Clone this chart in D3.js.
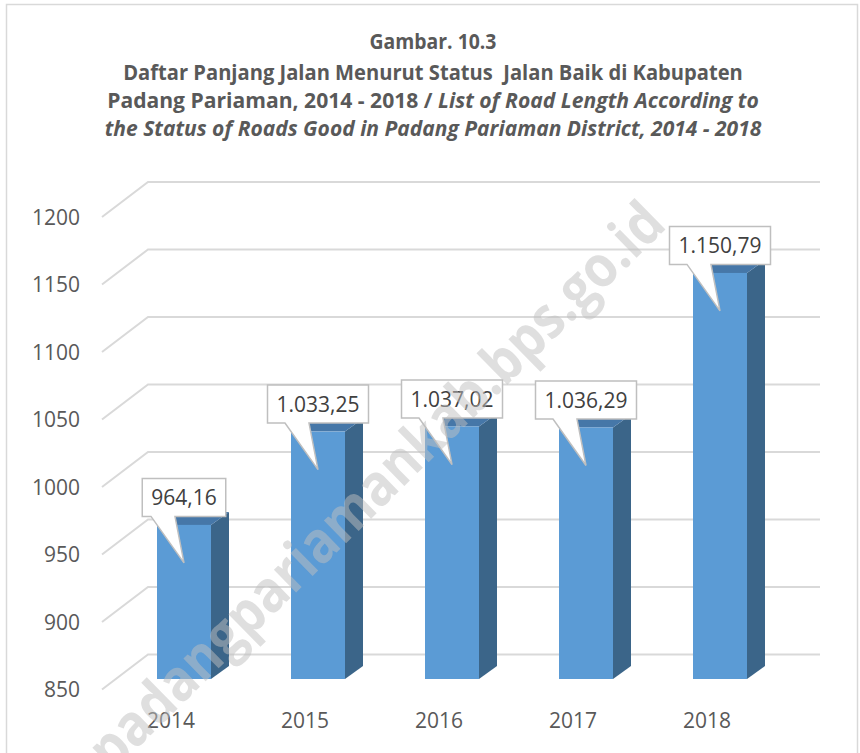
<!DOCTYPE html>
<html>
<head>
<meta charset="utf-8">
<script src="https://cdn.jsdelivr.net/npm/d3@7"></script>
<style>
  body { margin: 0; background: #fff; }
  svg { display: block; font-family: "Open Sans", sans-serif; }
  .title { white-space: pre; }
</style>
</head>
<body>
<svg></svg>
<script>
const width = 860, height = 753;
const svg = d3.select("svg").attr("width", width).attr("height", height);

// data
const years = ["2014", "2015", "2016", "2017", "2018"];
const roadGood = [964.16, 1033.25, 1037.02, 1036.29, 1150.79];
const yTicks = [850, 900, 950, 1000, 1050, 1100, 1150, 1200];
const titleLines = [
    [{ t: "Gambar. 10.3" }],
    [{ t: "Daftar Panjang Jalan Menurut Status  Jalan Baik di Kabupaten" }],
    [{ t: "Padang Pariaman, 2014 - 2018 / " }, { t: "List of Road Length According to", it: true }],
    [{ t: "the Status of Roads Good in Padang Pariaman District, 2014 - 2018", it: true }]
];
const watermark = "padangpariamankab.bps.go.id";

// indonesian number format 1.033,25
const idFmt = d3.formatLocale({ decimal: ",", thousands: ".", grouping: [3], currency: ["Rp", ""] }).format(",.2f");

// frame
svg.append("rect")
    .attr("x", 6.5).attr("y", 4.5)
    .attr("width", 851).attr("height", 770)
    .attr("fill", "none").attr("stroke", "#d9d9d9").attr("stroke-width", 1.5);

// title, squeezed a bit to match the narrow original font
const titleY = [49, 80, 108, 136];
const titleW = [127, 620, 652, 657];
titleLines.forEach((parts, i) => {
    const t = svg.append("text")
        .attr("class", "title")
        .attr("text-anchor", "middle")
        .attr("font-size", 20.5).attr("font-weight", "bold")
        .attr("fill", "#595959");
    parts.forEach(p => {
        t.append("tspan").text(p.t).attr("font-style", p.it ? "italic" : "normal");
    });
    const w = t.node().getComputedTextLength();
    t.attr("transform", `translate(433,${titleY[i]}) scale(${titleW[i] / w},1)`);
});

// scales (front face of bars)
const y = d3.scaleLinear().domain([850, 1200]).range([679, 679 - 350 * 1.35]);
const x = d3.scaleBand().domain(years).range([117, 787]).paddingInner(0.597).paddingOuter(0.2985);

const depthX = 46, depthY = 35;   // wall depth
const backX = 148, rightX = 820;
const wallOff = -24.5;            // back wall relative to bar front base

// gridlines
const grid = svg.append("g").attr("fill", "none").attr("stroke", "#d9d9d9").attr("stroke-width", 2);
yTicks.forEach(v => {
    const yb = y(v) + wallOff;
    grid.append("path")
        .attr("d", `M${backX - depthX},${yb + depthY}L${backX},${yb}H${rightX}`);
});

// y tick labels
svg.append("g").selectAll("text")
    .data(yTicks)
    .join("text")
    .attr("x", 80)
    .attr("y", d => y(d) + wallOff + depthY)
    .attr("dy", "0.36em")
    .attr("text-anchor", "end")
    .attr("font-size", 21)
    .attr("fill", "#595959")
    .text(d => d);

// bars
const bw = x.bandwidth(), bdx = 18, bdy = 13;
const bars = svg.append("g").selectAll("g")
    .data(years.map((yr, i) => ({ yr, v: roadGood[i] })))
    .join("g");

bars.append("path")   // side
    .attr("fill", "#3b6589")
    .attr("d", d => {
        const x1 = x(d.yr) + bw, yt = y(d.v), yb = y(850);
        return `M${x1},${yb}L${x1},${yt}L${x1 + bdx},${yt - bdy}L${x1 + bdx},${yb - bdy}Z`;
    });
bars.append("path")   // top
    .attr("fill", "#4677a8")
    .attr("d", d => {
        const x0 = x(d.yr), yt = y(d.v);
        return `M${x0},${yt}H${x0 + bw}L${x0 + bw + bdx},${yt - bdy}H${x0 + bdx}Z`;
    });
bars.append("rect")   // front
    .attr("fill", "#5b9bd5")
    .attr("x", d => x(d.yr))
    .attr("y", d => y(d.v))
    .attr("width", bw)
    .attr("height", d => y(850) - y(d.v));

// category labels
svg.append("g").selectAll("text")
    .data(years)
    .join("text")
    .attr("x", d => x(d) + bw / 2 - 13)
    .attr("y", 728)
    .attr("text-anchor", "middle")
    .attr("font-size", 21)
    .attr("fill", "#595959")
    .text(d => d);

// callouts
const call = svg.append("g").selectAll("g")
    .data(years.map((yr, i) => ({ yr, v: roadGood[i] })))
    .join("g");

call.each(function (d) {
    const g = d3.select(this);
    const cx = x(d.yr) + bw / 2;
    const bottom = y(d.v) - 8.5, top = bottom - 38;
    const label = g.append("text")
        .attr("x", cx).attr("y", (top + bottom) / 2)
        .attr("dy", "0.36em")
        .attr("text-anchor", "middle")
        .attr("font-size", 21)
        .attr("fill", "#404040")
        .text(idFmt(d.v));
    const tw = label.node().getComputedTextLength();
    const left = cx - tw / 2 - 9, right = cx + tw / 2 + 9;
    const tipY = y(d.v) + 38;
    g.insert("path", "text")
        .attr("fill", "#fff")
        .attr("stroke", "#bfbfbf")
        .attr("stroke-width", 1.5)
        .attr("d", `M${left},${top}H${right}V${bottom}H${cx - 9}L${cx},${tipY}L${cx - 33},${bottom}H${left}Z`);
});

// watermark
const wm = svg.append("text")
    .attr("text-anchor", "middle")
    .attr("font-size", 58)
    .attr("font-weight", "bold")
    .attr("fill", "#bfbfbf")
    .attr("fill-opacity", 0.5)
    .text(watermark);
const wmw = wm.node().getComputedTextLength();
wm.attr("transform", `translate(390,500) rotate(-44.5) scale(${780 / wmw},1)`);
</script>
</body>
</html>
